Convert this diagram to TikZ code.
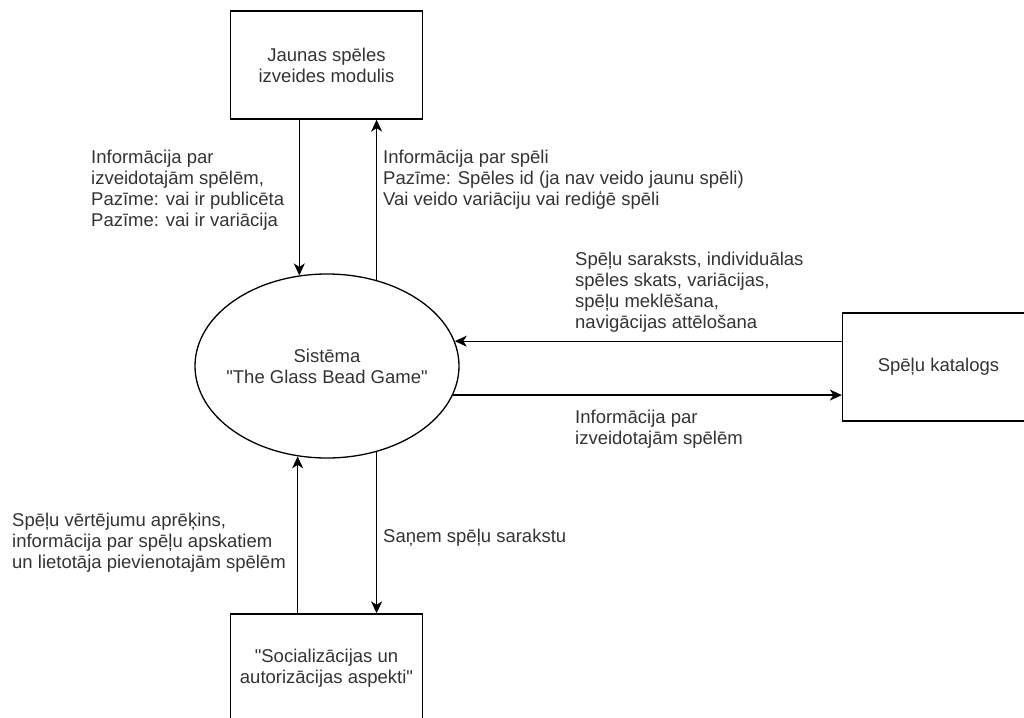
\documentclass[tikz,border=0pt]{standalone}
\usepackage{fontspec}
\setmainfont{Liberation Sans}[Ligatures=TeXOff]
\usetikzlibrary{arrows.meta,shapes.geometric}
\definecolor{ink}{HTML}{333333}
\tikzset{
  block/.style={draw=black, line width=1.3pt, minimum width=192pt, minimum height=108pt,
    align=center, text=ink, font=\fontsize{18.5}{21}\selectfont, inner sep=0pt},
  proc/.style={draw=black, line width=1.3pt, ellipse, minimum width=264pt, minimum height=184pt,
    inner xsep=-25pt, inner ysep=0pt, align=center, text=ink, font=\fontsize{18.5}{21}\selectfont},
  flow/.style={line width=1.3pt, -{Stealth[length=12pt,width=11pt,inset=3.5pt]}},
  note/.style={anchor=north west, inner sep=0pt, align=left, text=ink,
    font=\fontsize{18.5}{21}\selectfont}
}
\begin{document}
\begin{tikzpicture}[x=1pt,y=-1pt]
\useasboundingbox (0,0) rectangle (1024,717);
\clip (0,0) rectangle (1024,717);

% external entities and the central process
\node[block] (mod) at (326.5,65) {Jaunas spēles\\izveides modulis};
\node[proc]  (sys) at (327,366) {Sistēma\\ "The Glass Bead Game"};
\node[block] (cat) at (938.5,367) {Spēļu katalogs};
\node[block] (soc) at (326.5,668) {"Socializācijas un\\autorizācijas aspekti"};

% data flows
\draw[flow] (mod.south -| sys.107.9) -- (sys.107.9);
\draw[flow] (sys.60.2) -- (mod.south -| sys.60.2);
\draw[flow] (cat.west |- sys.11.6) -- (sys.11.6);
\draw[flow] (sys.-13) -- (cat.west |- sys.-13);
\draw[flow] (soc.north -| sys.252.1) -- (sys.252.1);
\draw[flow] (sys.-60.2) -- (soc.north -| sys.-60.2);

% flow labels
\node[note] (l1) at (91,150) {Informācija par\\izveidotajām spēlēm,\\Pazīme: vai ir publicēta\\Pazīme: vai ir variācija};
\node[note] (l2) at (383,150) {Informācija par spēli\\Pazīme: Spēles id (ja nav veido jaunu spēli)\\Vai veido variāciju vai rediģē spēli};
\node[note] (l3) at (575,252) {Spēļu saraksts, individuālas\\spēles skats, variācijas,\\spēļu meklēšana,\\navigācijas attēlošana};
\node[note] (l4) at (575,410) {Informācija par\\izveidotajām spēlēm};
\node[note] (l5) at (12,513) {Spēļu vērtējumu aprēķins,\\informācija par spēļu apskatiem\\un lietotāja pievienotajām spēlēm};
\node[note] (l6) at (383,529) {Saņem spēļu sarakstu};
\end{tikzpicture}
\end{document}
